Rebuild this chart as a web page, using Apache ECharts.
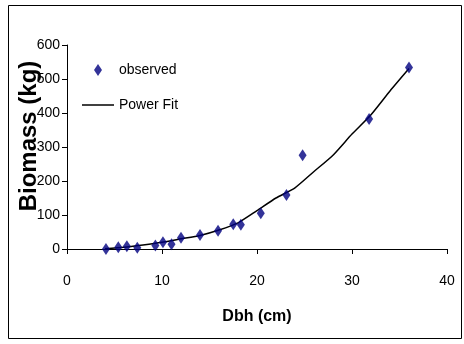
<!DOCTYPE html>
<html>
<head>
<meta charset="utf-8">
<script src="https://cdn.jsdelivr.net/npm/echarts@6/dist/echarts.min.js"></script>
<style>
html,body{margin:0;padding:0;background:#fff;}
#chart{width:464px;height:344px;}
</style>
</head>
<body>
<div id="chart"></div>
<script>
// Observed data
var dbh = [4.1, 5.4, 6.3, 7.4, 9.3, 10.1, 11.0, 12.0, 14.0, 15.9, 17.5, 18.3, 20.4, 23.1, 24.8, 31.8, 36.0];
var biomass = [0, 5, 8, 4, 10, 20, 14, 33, 41, 54, 73, 71, 105, 159, 276, 382, 534];
// Power fit curve
var fitX = [4, 6, 8, 10, 12, 14, 16, 18, 20, 22, 24, 26, 28, 30, 32, 34, 36];
var fitY = [1, 5, 12, 20, 30, 40, 56, 77, 113, 150, 180, 228, 276, 338, 395, 465, 531];
// Axis ticks
var xTicks = [0, 10, 20, 30, 40];
var yTicks = [0, 100, 200, 300, 400, 500, 600];
var seriesNames = ['observed', 'Power Fit'];
var yTitle = 'Biomass (kg)';
var xTitle = 'Dbh (cm)';

var obsData = dbh.map(function (x, i) { return [x, biomass[i]]; });
var fitData = fitX.map(function (x, i) { return [x, fitY[i]]; });

var chart = echarts.init(document.getElementById('chart'), null, {renderer: 'canvas'});
var font = "'Liberation Sans', Arial, sans-serif";
chart.setOption({
  animation: false,
  backgroundColor: '#fff',
  textStyle: {fontFamily: font},
  grid: {left: 67, right: 17, top: 45, bottom: 95, containLabel: false, outerBoundsMode: 'none'},
  legend: {
    orient: 'vertical',
    left: 82, top: 63,
    padding: 0,
    itemWidth: 32, itemHeight: 12,
    itemGap: 21,
    data: [
      {name: seriesNames[0], icon: 'path://M4,0L8,6L4,12L0,6Z', itemStyle: {color: '#000080'}},
      {name: seriesNames[1], icon: 'path://M0,0H64V3H0Z', itemStyle: {color: '#000'}}
    ],
    textStyle: {fontSize: 14, color: '#000', fontFamily: font}
  },
  xAxis: {
    type: 'value',
    min: xTicks[0], max: xTicks[xTicks.length - 1], interval: 10,
    name: xTitle, nameLocation: 'middle', nameGap: 60,
    nameTextStyle: {fontSize: 16, fontWeight: 'bold', color: '#000', fontFamily: "'Liberation Sans Narrow', " + font},
    axisLine: {lineStyle: {color: '#000', width: 1}},
    axisTick: {show: true, inside: false, length: 5, lineStyle: {color: '#000'}},
    axisLabel: {fontSize: 14, color: '#000', margin: 25},
    splitLine: {show: false}
  },
  yAxis: {
    type: 'value',
    min: yTicks[0], max: yTicks[yTicks.length - 1], interval: 100,
    axisLine: {show: true, lineStyle: {color: '#000', width: 1}},
    axisTick: {show: true, inside: false, length: 5, lineStyle: {color: '#000'}},
    axisLabel: {fontSize: 14, color: '#000', margin: 7},
    splitLine: {show: false}
  },
  series: [
    {
      name: seriesNames[1],
      type: 'line',
      data: fitData,
      symbol: 'none',
      smooth: 0.2,
      lineStyle: {color: '#000', width: 1.5},
      itemStyle: {color: '#000'},
      z: 2
    },
    {
      name: seriesNames[0],
      type: 'scatter',
      data: obsData,
      symbol: 'diamond',
      symbolSize: [8, 12],
      itemStyle: {color: '#000080'},
      z: 3
    }
  ],
  graphic: [
    {
      type: 'rect',
      shape: {x: 8.5, y: 5.5, width: 453, height: 333},
      style: {fill: 'none', stroke: '#000', lineWidth: 1},
      silent: true
    },
    {
      type: 'text',
      x: 29, y: 136,
      rotation: Math.PI / 2,
      style: {
        text: yTitle,
        font: "bold 24px 'Liberation Sans', Arial, sans-serif",
        fill: '#000',
        textAlign: 'center',
        textVerticalAlign: 'middle'
      },
      silent: true
    }
  ]
});
</script>
</body>
</html>
